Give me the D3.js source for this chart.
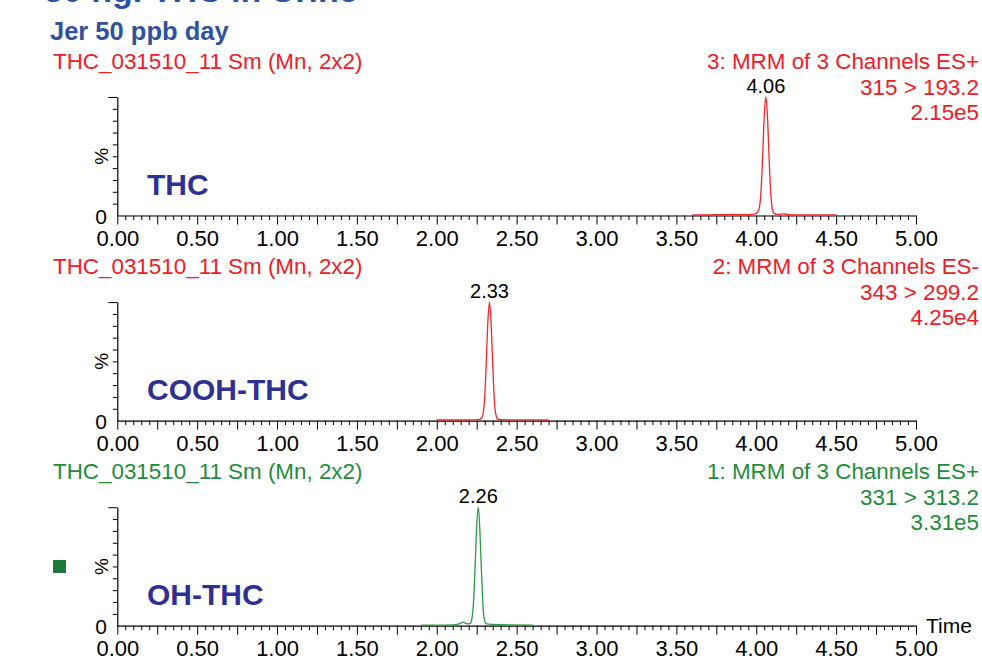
<!DOCTYPE html>
<html>
<head>
<meta charset="utf-8">
<script src="https://cdn.jsdelivr.net/npm/d3@7"></script>
<style>
body { margin: 0; background: #fff; }
text { font-family: 'Liberation Sans', Arial, sans-serif; }
</style>
</head>
<body>
<svg id="chart" width="982" height="656"></svg>
<script>
const pageTitle = '50 ng. THC in Urine';
const sampleTitle = 'Jer 50 ppb day';
const compounds = ['THC', 'COOH-THC', 'OH-THC'];
const sampleNames = [
    'THC_031510_11 Sm (Mn, 2x2)',
    'THC_031510_11 Sm (Mn, 2x2)',
    'THC_031510_11 Sm (Mn, 2x2)'
];
const channels = [
    '3: MRM of 3 Channels ES+',
    '2: MRM of 3 Channels ES-',
    '1: MRM of 3 Channels ES+'
];
const transitions = ['315 > 193.2', '343 > 299.2', '331 > 313.2'];
const intensities = ['2.15e5', '4.25e4', '3.31e5'];
const peakTimes = [4.06, 2.33, 2.26];
const timeLabels = [0, 0.5, 1, 1.5, 2, 2.5, 3, 3.5, 4, 4.5, 5];

// [time (min), intensity (%)]
const thcTrace = [
    [3.60, 0.6], [3.70, 0.6], [3.80, 0.7], [3.86, 0.9], [3.90, 0.7], [3.95, 0.8],
    [3.99, 1.2], [4.01, 3], [4.02, 7], [4.03, 21], [4.04, 50], [4.05, 84],
    [4.06, 100], [4.07, 84], [4.08, 50], [4.09, 20], [4.10, 6], [4.11, 2],
    [4.13, 1], [4.17, 1.3], [4.20, 0.8], [4.30, 0.6], [4.50, 0.6]
];
const coohTrace = [
    [2.00, 0.5], [2.10, 0.5], [2.20, 0.6], [2.26, 0.8], [2.28, 2], [2.29, 6],
    [2.30, 20], [2.31, 50], [2.32, 84], [2.33, 100], [2.34, 82], [2.35, 48],
    [2.36, 18], [2.37, 5], [2.38, 1.5], [2.40, 0.8], [2.50, 0.6], [2.70, 0.5]
];
const ohTrace = [
    [1.90, 0.5], [2.00, 0.5], [2.10, 0.7], [2.14, 1.5], [2.165, 3], [2.19, 1.5],
    [2.21, 2], [2.22, 6], [2.23, 20], [2.24, 50], [2.25, 85], [2.26, 100],
    [2.27, 80], [2.28, 45], [2.29, 15], [2.30, 4], [2.31, 1.5], [2.35, 1],
    [2.45, 0.6], [2.60, 0.5]
];
const traces = [thcTrace, coohTrace, ohTrace];

const colors = ['#ec2027', '#ec2027', '#1f8b3b'];
const lineColors = ['#f0282e', '#f0282e', '#2a9a4a'];

const svg = d3.select('#chart');

svg.append('text')
    .attr('x', 44)
    .attr('y', 2)
    .style('font-size', '34px')
    .style('font-weight', 'bold')
    .attr('fill', '#2f52a0')
    .text(pageTitle);

svg.append('text')
    .attr('x', 50)
    .attr('y', 40)
    .style('font-size', '25.5px')
    .style('font-weight', 'bold')
    .attr('fill', '#2f52a0')
    .text(sampleTitle);

const x = d3.scaleLinear().domain([0, 5]).range([117.3, 916]);
const minorTicks = d3.range(0, 101).map(i => i * 0.05);
const panelStep = 205.1;

compounds.forEach(addPanel);

function addPanel(name, i) {
    const off = i * panelStep;
    const g = svg.append('g');
    const y = d3.scaleLinear().domain([0, 100]).range([215.5 + off, 97 + off]);
    const color = colors[i];

    g.append('text')
        .attr('x', 53).attr('y', 69 + off)
        .style('font-size', '22.4px')
        .attr('fill', color)
        .text(sampleNames[i]);

    [channels[i], transitions[i], intensities[i]].forEach(function (t, k) {
        g.append('text')
            .attr('x', 979).attr('y', 69 + off + k * 25.5)
            .attr('text-anchor', 'end')
            .style('font-size', '22.4px')
            .attr('fill', color)
            .text(t);
    });

    // x axis
    const xAxis = g.append('g')
        .attr('transform', `translate(0,${y(0)})`)
        .call(d3.axisBottom(x)
            .tickValues(minorTicks)
            .tickSizeOuter(0)
            .tickFormat(d => timeLabels.some(v => Math.abs(v - d) < 1e-6) ? d.toFixed(2) : ''));
    xAxis.select('.domain').attr('stroke', '#000').attr('stroke-width', 1.2);
    xAxis.selectAll('.tick line')
        .attr('stroke', '#000')
        .attr('stroke-width', 1)
        .attr('y2', d => Math.round(d * 100) % 25 === 0 ? 9 : 4.5);
    xAxis.selectAll('.tick text')
        .attr('y', 30).attr('dy', 0)
        .attr('fill', '#000')
        .style('font-size', '22px')
        .style('font-family', "'Liberation Sans', Arial, sans-serif");

    // y axis
    const yAxis = g.append('g')
        .attr('transform', `translate(${x(0)},0)`)
        .call(d3.axisLeft(y)
            .tickValues(d3.range(0, 101, 10))
            .tickSizeOuter(0)
            .tickFormat(''));
    yAxis.select('.domain').attr('stroke', '#000').attr('stroke-width', 1.2);
    yAxis.selectAll('.tick line')
        .attr('stroke', '#000')
        .attr('stroke-width', 1)
        .attr('x2', d => d === 100 ? -9 : (d === 0 ? 0 : -4.5));

    g.append('text')
        .attr('x', 107).attr('y', y(0) + 8)
        .attr('text-anchor', 'end')
        .style('font-size', '21px')
        .attr('fill', '#000')
        .text('0');

    g.append('text')
        .attr('transform', `translate(108,${y(50)}) rotate(-90)`)
        .attr('text-anchor', 'middle')
        .style('font-size', '19px')
        .attr('fill', '#000')
        .text('%');

    g.append('text')
        .attr('x', 147).attr('y', 195 + off)
        .style('font-size', '30px')
        .style('font-weight', 'bold')
        .attr('fill', '#2e3192')
        .text(name);

    const line = d3.line()
        .x(d => x(d[0]))
        .y(d => y(d[1]))
        .curve(d3.curveMonotoneX);

    g.append('path')
        .datum(traces[i])
        .attr('d', line)
        .attr('fill', 'none')
        .attr('stroke', lineColors[i])
        .attr('stroke-width', 1.3);

    g.append('text')
        .attr('x', x(peakTimes[i])).attr('y', y(100) - 4)
        .attr('text-anchor', 'middle')
        .style('font-size', '20px')
        .attr('fill', '#000')
        .text(peakTimes[i].toFixed(2));
}

svg.append('rect')
    .attr('x', 53).attr('y', 560)
    .attr('width', 13).attr('height', 13)
    .attr('fill', '#1a7a3a');

svg.append('text')
    .attr('x', 926).attr('y', 633)
    .style('font-size', '21px')
    .attr('fill', '#000')
    .text('Time');
</script>
</body>
</html>
